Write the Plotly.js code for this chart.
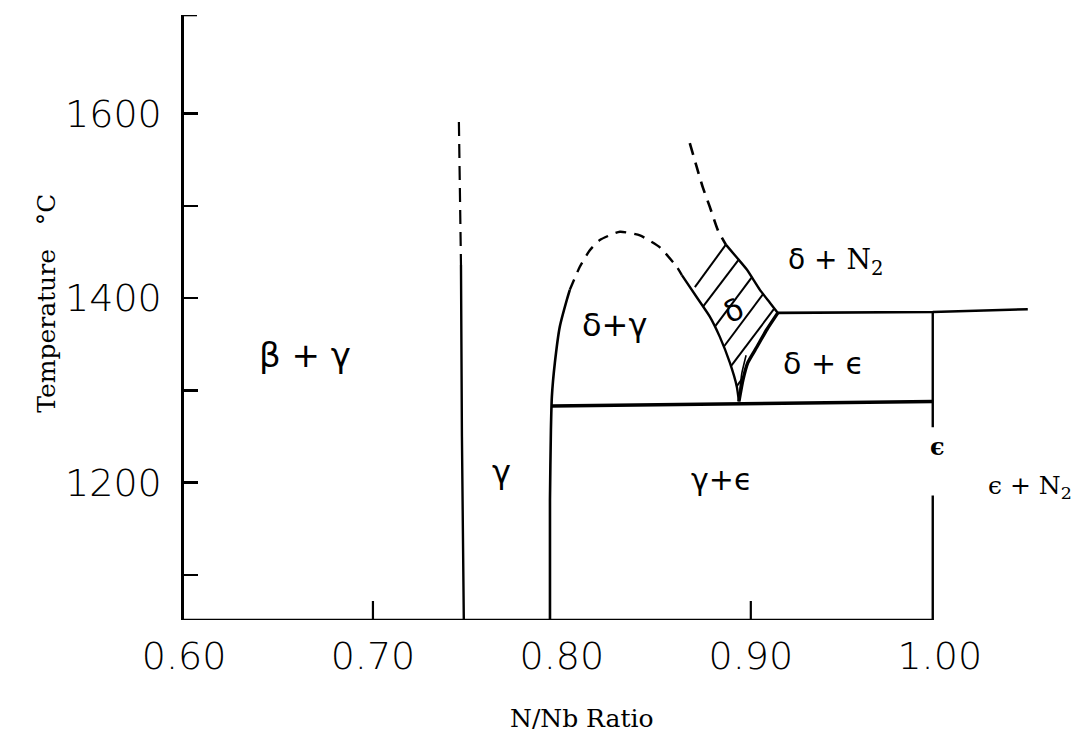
<!DOCTYPE html>
<html><head><meta charset="utf-8">
<script src="https://cdn.plot.ly/plotly-3.0.1.min.js"></script>
<style>html,body{margin:0;padding:0;background:#fff;}#chart{width:1085px;height:748px;}</style>
</head><body><div id="chart"></div>
<script>
// ---- axes ----
const xRange = [0.60, 1.07];
const yRange = [1051, 1707];
const xTickVals = [0.60, 0.70, 0.80, 0.90, 1.00];
const xTickText = ['0.60', '0.70', '0.80', '0.90', '1.00'];
const xMinorTicks = [0.70, 0.90];
const yTickVals = [1200, 1400, 1600];
const yTickText = ['1200', '1400', '1600'];
const yMinorTicks = [1100, 1300, 1500];

// ---- phase boundaries (N/Nb ratio, temperature °C) ----
const betaGammaDashX = [0.7455, 0.7466];
const betaGammaDashT = [1591, 1436];
const betaGammaSolidX = [0.7466, 0.7471, 0.7481];
const betaGammaSolidT = [1436, 1250, 1051];

const gammaLimitX = [0.7937, 0.7937, 0.7942, 0.7947, 0.7963, 0.7989, 0.8026, 0.8042];
const gammaLimitT = [1051, 1181, 1257, 1293, 1330, 1369, 1398, 1409];
const domeX = [0.8042, 0.8095, 0.8148, 0.8201, 0.8307, 0.8413, 0.8519, 0.8608, 0.8635];
const domeT = [1409, 1434, 1452, 1463, 1472, 1468, 1455, 1434, 1425];
const deltaLeftX = [0.8635, 0.8714, 0.8783, 0.8836, 0.8889, 0.8926, 0.8937];
const deltaLeftT = [1425, 1401, 1380, 1358, 1330, 1304, 1288];
const deltaTopDashX = [0.8677, 0.8714, 0.8746, 0.8783, 0.8825, 0.8868];
const deltaTopDashT = [1568, 1542, 1520, 1499, 1474, 1458];
const deltaRightUpperX = [0.8868, 0.8926, 0.8979, 0.9048, 0.9101, 0.9143];
const deltaRightUpperT = [1458, 1444, 1431, 1409, 1395, 1384];
const deltaRightLowerX = [0.9143, 0.9085, 0.9032, 0.8984, 0.8958, 0.8937];
const deltaRightLowerT = [1384, 1366, 1347, 1330, 1311, 1288];
const deltaInnerX = [0.8975, 0.8952, 0.8940];
const deltaInnerT = [1338, 1318, 1296];
const eutectoidX = [0.7947, 0.9963];
const eutectoidT = [1283, 1288];
const upperLineX = [0.9143, 0.9963, 1.0466];
const upperLineT = [1384, 1385, 1388];
const epsUpperX = [0.9963, 0.9963];
const epsUpperT = [1385, 1260];
const epsLowerX = [0.9963, 0.9963];
const epsLowerT = [1186, 1051];

// hatching of the delta field
const hatchX0 = [0.8704, 0.8748, 0.8810, 0.8856, 0.8894, 0.8924];
const hatchT0 = [1412, 1391, 1369, 1347, 1326, 1304];
const hatchX1 = [0.8868, 0.8933, 0.9003, 0.9067, 0.9122, 0.8963];
const hatchT1 = [1458, 1441, 1422, 1405, 1388, 1315];

// ---- region labels ----
const regionLabels = ['β + γ', 'γ', 'δ+γ', 'δ', 'δ + <span style="font-family:DejaVu Serif">N<sub>2</sub></span>', 'δ + ϵ', 'γ+ϵ', 'ϵ', 'ϵ + N<sub>2</sub>'];
const regionLabelX = [0.6640, 0.7683, 0.8280, 0.8905, 0.9450, 0.9386, 0.8847, 0.9989, 1.0476];
const regionLabelT = [1338, 1212, 1371, 1387, 1440, 1329, 1203, 1239, 1195];

// ---------------------------------------------------------------
const INK = '#000';
function seg(xs, ts, w, dash) {
  return {x: xs, y: ts, type: 'scatter', mode: 'lines', hoverinfo: 'skip', showlegend: false,
          line: {color: INK, width: w, dash: dash || 'solid', shape: 'spline', smoothing: 0.5}};
}
const traces = [
  seg(betaGammaDashX, betaGammaDashT, 2.2, '14px,8px'),
  seg(betaGammaSolidX, betaGammaSolidT, 2.4),
  seg(gammaLimitX, gammaLimitT, 2.6),
  seg(domeX, domeT, 2.4, '11px,8px'),
  seg(deltaLeftX, deltaLeftT, 2.4),
  seg(deltaTopDashX, deltaTopDashT, 2.6, '12px,8px'),
  seg(deltaRightUpperX, deltaRightUpperT, 2.4),
  seg(deltaRightLowerX, deltaRightLowerT, 3.4),
  seg(deltaInnerX, deltaInnerT, 1.6),
  seg(eutectoidX, eutectoidT, 3.4),
  seg(upperLineX, upperLineT, 2.6),
  seg(epsUpperX, epsUpperT, 2.4),
  seg(epsLowerX, epsLowerT, 2.4)
];
for (let i = 0; i < hatchX0.length; i++) {
  traces.push(seg([hatchX0[i], hatchX1[i]], [hatchT0[i], hatchT1[i]], 2));
}

const labelStyles = [
  {size: 34, family: 'DejaVu Sans'},
  {size: 32, family: 'DejaVu Sans'},
  {size: 32, family: 'DejaVu Sans'},
  {size: 30, family: 'DejaVu Sans'},
  {size: 28, family: 'DejaVu Sans'},
  {size: 30, family: 'DejaVu Sans'},
  {size: 30, family: 'DejaVu Sans'},
  {size: 24, family: 'DejaVu Serif', weight: 'bold'},
  {size: 25, family: 'DejaVu Serif'}
];
const labelAngles = [0, 0, 0, -25, 0, 0, 0, 0, 0];
const annotations = regionLabels.map((t, i) => ({
  x: regionLabelX[i], y: regionLabelT[i], xref: 'x', yref: 'y', text: t, showarrow: false,
  textangle: labelAngles[i],
  font: Object.assign({color: INK}, labelStyles[i])
}));
annotations.push({
  text: 'Temperature\u00a0\u00a0\u00a0°C', xref: 'paper', yref: 'paper', x: -0.173, y: 0.524,
  textangle: -90, showarrow: false, font: {family: 'DejaVu Serif', size: 25, color: INK}
});
annotations.push({
  text: 'N/Nb Ratio', xref: 'paper', yref: 'paper', x: 0.448, y: -0.19,
  showarrow: false, font: {family: 'DejaVu Serif', size: 25, color: INK}
});

const shapes = [
  {type: 'line', xref: 'x', yref: 'y', x0: xRange[0], x1: epsLowerX[1], y0: yRange[0], y1: yRange[0],
   line: {color: INK, width: 2.6}},
  {type: 'line', xref: 'x', yref: 'y', xsizemode: 'pixel', xanchor: xRange[0], x0: 0, x1: 13,
   y0: yRange[1], y1: yRange[1], line: {color: INK, width: 2.6}}
];
xMinorTicks.forEach(v => shapes.push({
  type: 'line', xref: 'x', yref: 'y', x0: v, x1: v, ysizemode: 'pixel', yanchor: yRange[0], y0: 0, y1: 19,
  line: {color: INK, width: 2.2}
}));

const tickFont = {family: 'DejaVu Sans', size: 38, color: INK, weight: 200};
const layout = {
  width: 1085, height: 748,
  margin: {l: 184, r: 13, t: 15, b: 128, pad: 0},
  paper_bgcolor: '#fff', plot_bgcolor: '#fff',
  showlegend: false,
  xaxis: {range: xRange, showgrid: false, zeroline: false, showline: false, ticks: '',
          tickvals: xTickVals, ticktext: xTickText, ticklabelstandoff: 10,
          tickfont: tickFont, fixedrange: true},
  yaxis: {range: yRange, showgrid: false, zeroline: false, showline: true, linecolor: INK, linewidth: 2.6,
          ticks: 'inside', ticklen: 14, tickwidth: 2.4, tickcolor: INK,
          tickvals: yTickVals, ticktext: yTickText, ticklabelstandoff: 12,
          minor: {tickvals: yMinorTicks, ticks: 'inside', ticklen: 14, tickwidth: 2.4, tickcolor: INK, showgrid: false},
          tickfont: tickFont, fixedrange: true},
  annotations: annotations,
  shapes: shapes
};
Plotly.newPlot('chart', traces, layout, {staticPlot: true, displayModeBar: false});
</script>
</body></html>
